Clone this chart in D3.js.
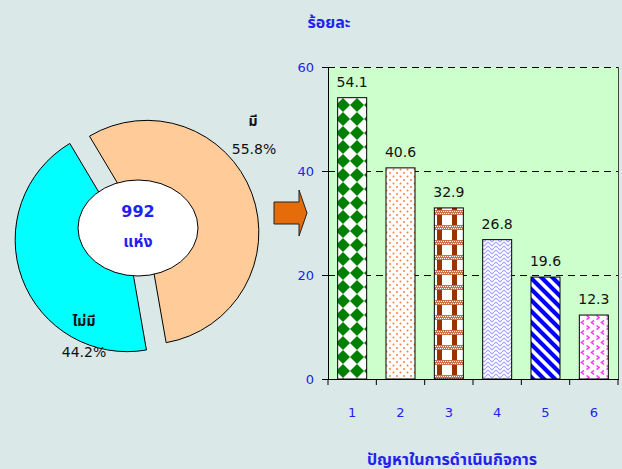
<!DOCTYPE html>
<html><head><meta charset="utf-8">
<script src="https://cdn.jsdelivr.net/npm/d3@7"></script>
<style>
html,body{margin:0;padding:0;background:#DAE8E8;}
svg{display:block;}
text{font-family:Tahoma,"DejaVu Sans","Noto Sans Thai","Noto Sans",sans-serif;}
</style></head>
<body>
<svg id="c" width="622" height="469"></svg>
<script>
// ---- data ----
const pieLabels = ["มี", "ไม่มี"];
const pieValues = [55.8, 44.2];
const pieTotal = "992";
const pieUnit = "แห่ง";
const categories = ["1", "2", "3", "4", "5", "6"];
const values = [54.1, 40.6, 32.9, 26.8, 19.6, 12.3];
const yTicks = [0, 20, 40, 60];
const yTitle = "ร้อยละ";
const xTitle = "ปัญหาในการดำเนินกิจการ";

const svg = d3.select("#c");
const defs = svg.append("defs");
const blue = "#2222ee";

// ---- patterns ----
function pat(id, w, h, draw) {
  const p = defs.append("pattern").attr("id", id).attr("patternUnits", "userSpaceOnUse")
    .attr("width", w).attr("height", h);
  p.append("rect").attr("width", w).attr("height", h).attr("fill", "#fff");
  draw(p);
}
pat("p1", 14, 14, p => {
  p.append("path").attr("d", "M7,0L14,7L7,14L0,7Z").attr("fill", "#008000");
});
pat("p2", 7, 7, p => {
  p.append("circle").attr("cx", 1.5).attr("cy", 1.5).attr("r", 1).attr("fill", "#ff8040");
  p.append("circle").attr("cx", 5).attr("cy", 5).attr("r", 1).attr("fill", "#ff8040");
});
pat("p3", 15, 15, p => {
  p.append("rect").attr("x", 2).attr("y", 0).attr("width", 5).attr("height", 15).attr("fill", "#993300");
  p.append("rect").attr("x", 0).attr("y", 0).attr("width", 15).attr("height", 5).attr("fill", "#c8714a");
  for (let i = 0; i < 15; i += 2) {
    p.append("rect").attr("x", i).attr("y", 1).attr("width", 1).attr("height", 1).attr("fill", "#fff");
    p.append("rect").attr("x", i + 1).attr("y", 3).attr("width", 1).attr("height", 1).attr("fill", "#fff");
  }
});
pat("p4", 8, 8, p => {
  p.append("path").attr("d", "M0,2L4,6L8,2M0,6L2,8M8,6L6,8M2,0L4,2L6,0").attr("fill", "none")
    .attr("stroke", "#a8a8ff").attr("stroke-width", 1.2);
});
pat("p5", 11, 11, p => {
  p.append("path").attr("d", "M-2,-2L13,13M-2,9L2,13M9,-2L13,2").attr("stroke", "#0000ff").attr("stroke-width", 4.2);
});
pat("p6", 10, 10, p => {
  p.append("path").attr("d", "M4,0.5L1.5,2.5L4,4.5").attr("fill", "none").attr("stroke", "#ff33ff").attr("stroke-width", 1.6);
  p.append("path").attr("d", "M6.5,5.5L9,7.5L6.5,9.5").attr("fill", "none").attr("stroke", "#ff33ff").attr("stroke-width", 1.6);
});
const patterns = ["url(#p1)", "url(#p2)", "url(#p3)", "url(#p4)", "url(#p5)", "url(#p6)"];

// ---- donut ----
const pieColors = ["#FFCC99", "#00FFFF"];
const start = -30.8 * Math.PI / 180;
const pie = d3.pie().sort(null).startAngle(start).endAngle(start + 2 * Math.PI);
const arcs = pie(pieValues);
const arc = d3.arc().innerRadius(22).outerRadius(112);
const cx = 137, cy = 236, explode = 10.5;
const pg = svg.append("g");
arcs.forEach((a, i) => {
  const m = (a.startAngle + a.endAngle) / 2;
  const dx = Math.sin(m) * explode, dy = -Math.cos(m) * explode;
  pg.append("g").attr("transform", `translate(${cx + dx},${cy + dy})`)
    .append("path").attr("d", arc(a)).attr("fill", pieColors[i])
    .attr("stroke", "#000").attr("stroke-width", 1);
});
pg.append("ellipse").attr("cx", 138).attr("cy", 228).attr("rx", 60).attr("ry", 48)
  .attr("fill", "#fff").attr("stroke", "#000").attr("stroke-width", 1);
pg.append("text").attr("x", 138).attr("y", 217).attr("text-anchor", "middle")
  .attr("font-size", 16).attr("font-weight", "bold").attr("fill", blue).text(pieTotal);
pg.append("text").attr("x", 138).attr("y", 247).attr("text-anchor", "middle")
  .attr("font-size", 16).attr("font-weight", "bold").attr("fill", blue).text(pieUnit);
// slice labels
const labelPos = [[253, 126, 254, 154], [84, 326, 84, 357]];
arcs.forEach((a, i) => {
  const [x1, y1, x2, y2] = labelPos[i];
  pg.append("text").attr("x", x1).attr("y", y1).attr("text-anchor", "middle")
    .attr("font-size", 14).attr("font-weight", "bold").attr("fill", "#111").text(pieLabels[i]);
  pg.append("text").attr("x", x2).attr("y", y2).attr("text-anchor", "middle")
    .attr("font-size", 14).attr("fill", "#111").text(d3.format(".1f")(pieValues[i]) + "%");
});

// ---- arrow ----
svg.append("path").attr("d", "M274,202L299,202L299,190L307,213L299,236L299,224L274,224Z")
  .attr("fill", "#E46C0A").attr("stroke", "#222").attr("stroke-width", 1);

// ---- bar chart ----
const x0 = 328, x1 = 618, yTop = 67, yBot = 379;
const x = d3.scaleBand().domain(categories).range([x0, x1]).paddingInner(0.4).paddingOuter(0.2);
const y = d3.scaleLinear().domain([0, 60]).range([yBot, yTop]);

svg.append("rect").attr("x", x0).attr("y", yTop).attr("width", x1 - x0).attr("height", yBot - yTop)
  .attr("fill", "#CCFFCC");
// gridlines
svg.append("g").selectAll("line").data(yTicks.filter(d => d > 0)).join("line")
  .attr("x1", x0).attr("x2", x1).attr("y1", d => y(d) + 0.5).attr("y2", d => y(d) + 0.5)
  .attr("stroke", "#000").attr("stroke-dasharray", "7,5").attr("stroke-width", 1);
// right border
svg.append("line").attr("x1", x1 + 0.5).attr("x2", x1 + 0.5).attr("y1", yTop).attr("y2", yBot)
  .attr("stroke", "#444").attr("stroke-width", 1);

// bars
svg.append("g").selectAll("rect").data(values).join("rect")
  .attr("x", (d, i) => x(categories[i])).attr("y", d => y(d))
  .attr("width", x.bandwidth()).attr("height", d => yBot - y(d))
  .attr("fill", (d, i) => patterns[i]).attr("stroke", "#000").attr("stroke-width", 1);
svg.append("g").selectAll("text").data(values).join("text")
  .attr("x", (d, i) => x(categories[i]) + x.bandwidth() / 2).attr("y", d => y(d) - 11)
  .attr("text-anchor", "middle").attr("font-size", 14).attr("fill", "#111")
  .text(d => d3.format(".1f")(d));

// y axis
const ya = svg.append("g").attr("transform", `translate(${x0},0)`)
  .call(d3.axisLeft(y).tickValues(yTicks).tickSize(6).tickPadding(8));
ya.select(".domain").attr("stroke", "#000");
ya.selectAll(".tick line").attr("stroke", "#000");
ya.selectAll("text").attr("fill", blue).attr("font-size", 13)
  .style("font-family", "Tahoma,'DejaVu Sans',sans-serif");

// x axis with ticks at boundaries
const xa = svg.append("g").attr("transform", `translate(0,${yBot})`);
xa.append("line").attr("x1", x0).attr("x2", x1 + 1).attr("y1", 0.5).attr("y2", 0.5).attr("stroke", "#000");
const step = x.step();
xa.selectAll("line.t").data(d3.range(categories.length + 1)).join("line").attr("class", "t")
  .attr("x1", i => x0 + i * step).attr("x2", i => x0 + i * step).attr("y1", 0).attr("y2", 6)
  .attr("stroke", "#000");
xa.selectAll("text").data(categories).join("text")
  .attr("x", d => x(d) + x.bandwidth() / 2).attr("y", 38).attr("text-anchor", "middle")
  .attr("font-size", 13).attr("fill", blue).text(d => d);

// titles
svg.append("text").attr("x", 329).attr("y", 28).attr("text-anchor", "middle")
  .attr("font-size", 16).attr("font-weight", "bold").attr("fill", blue).text(yTitle);
svg.append("text").attr("x", 452).attr("y", 465).attr("text-anchor", "middle")
  .attr("font-size", 16).attr("font-weight", "bold").attr("fill", blue).text(xTitle);
</script>
</body></html>
